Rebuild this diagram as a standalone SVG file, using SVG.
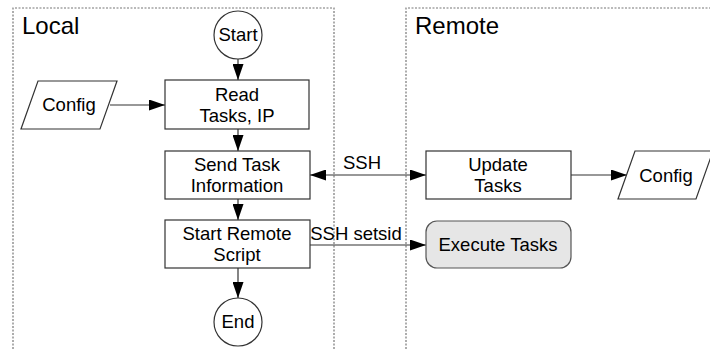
<svg xmlns="http://www.w3.org/2000/svg" width="710" height="349" viewBox="0 0 710 349">
  <style>
    text { font-family: "Liberation Sans", Arial, sans-serif; fill: #000; }
    .lbl { font-size: 18.5px; text-anchor: middle; }
    .title { font-size: 24px; }
    .frame { fill: none; stroke: #777; stroke-width: 1.2; stroke-dasharray: 2 1.5; }
    .box { fill: #fff; stroke: #333; stroke-width: 1.2; }
    .term { fill: #e6e6e6; stroke: #555; stroke-width: 1.2; }
    .edge { fill: none; stroke: #333; stroke-width: 1.2; }
  </style>
  <defs>
    <marker id="arrow" viewBox="0 0 16 11" refX="16" refY="5.5" markerWidth="16" markerHeight="11" markerUnits="userSpaceOnUse" orient="auto-start-reverse">
      <path d="M0,0 L16,5.5 L0,11 Z" fill="#000"/>
    </marker>
  </defs>
  <rect width="710" height="349" fill="#fff"/>

  <!-- swimlanes -->
  <g id="lane-local">
    <path class="frame" d="M13,349 V8 H334 V349"/>
    <text class="title" x="22" y="34">Local</text>
  </g>
  <g id="lane-remote">
    <path class="frame" d="M406,349 V8 H712"/>
    <text class="title" x="415" y="34">Remote</text>
  </g>

  <!-- connectors -->
  <g id="connectors">
    <line class="edge" x1="238" y1="59" x2="238" y2="80" marker-end="url(#arrow)"/>
    <line class="edge" x1="110" y1="105" x2="165" y2="105" marker-end="url(#arrow)"/>
    <line class="edge" x1="238" y1="129" x2="238" y2="151" marker-end="url(#arrow)"/>
    <line class="edge" x1="238" y1="199" x2="238" y2="220" marker-end="url(#arrow)"/>
    <line class="edge" x1="238" y1="268" x2="238" y2="298" marker-end="url(#arrow)"/>
    <line class="edge" x1="310" y1="175" x2="426" y2="175" marker-start="url(#arrow)" marker-end="url(#arrow)"/>
    <text class="lbl" x="362" y="169">SSH</text>
    <line class="edge" x1="310" y1="245" x2="426" y2="245" marker-end="url(#arrow)"/>
    <text class="lbl" x="356" y="240">SSH setsid</text>
    <line class="edge" x1="571" y1="175" x2="627" y2="175" marker-end="url(#arrow)"/>
  </g>

  <!-- nodes -->
  <g id="start">
    <circle class="box" cx="238" cy="35" r="24"/>
    <text class="lbl" x="238" y="41">Start</text>
  </g>
  <g id="config-local">
    <polygon class="box" points="38,81 117,81 100,129 21,129"/>
    <text class="lbl" x="69" y="111">Config</text>
  </g>
  <g id="read">
    <rect class="box" x="165" y="80" width="144" height="49"/>
    <text class="lbl" x="237" y="101">Read</text>
    <text class="lbl" x="237" y="122">Tasks, IP</text>
  </g>
  <g id="send">
    <rect class="box" x="165" y="151" width="145" height="48"/>
    <text class="lbl" x="237" y="171">Send Task</text>
    <text class="lbl" x="237" y="192">Information</text>
  </g>
  <g id="start-remote">
    <rect class="box" x="165" y="220" width="145" height="48"/>
    <text class="lbl" x="237" y="240">Start Remote</text>
    <text class="lbl" x="237" y="261">Script</text>
  </g>
  <g id="end">
    <circle class="box" cx="238" cy="322" r="24"/>
    <text class="lbl" x="238" y="328">End</text>
  </g>
  <g id="update">
    <rect class="box" x="426" y="151" width="145" height="48"/>
    <text class="lbl" x="498" y="171">Update</text>
    <text class="lbl" x="498" y="192">Tasks</text>
  </g>
  <g id="execute">
    <rect class="term" x="426" y="221" width="145" height="47" rx="11"/>
    <text class="lbl" x="498" y="251">Execute Tasks</text>
  </g>
  <g id="config-remote">
    <polygon class="box" points="635,151 713,151 696,199 618,199"/>
    <text class="lbl" x="666" y="182">Config</text>
  </g>
</svg>
